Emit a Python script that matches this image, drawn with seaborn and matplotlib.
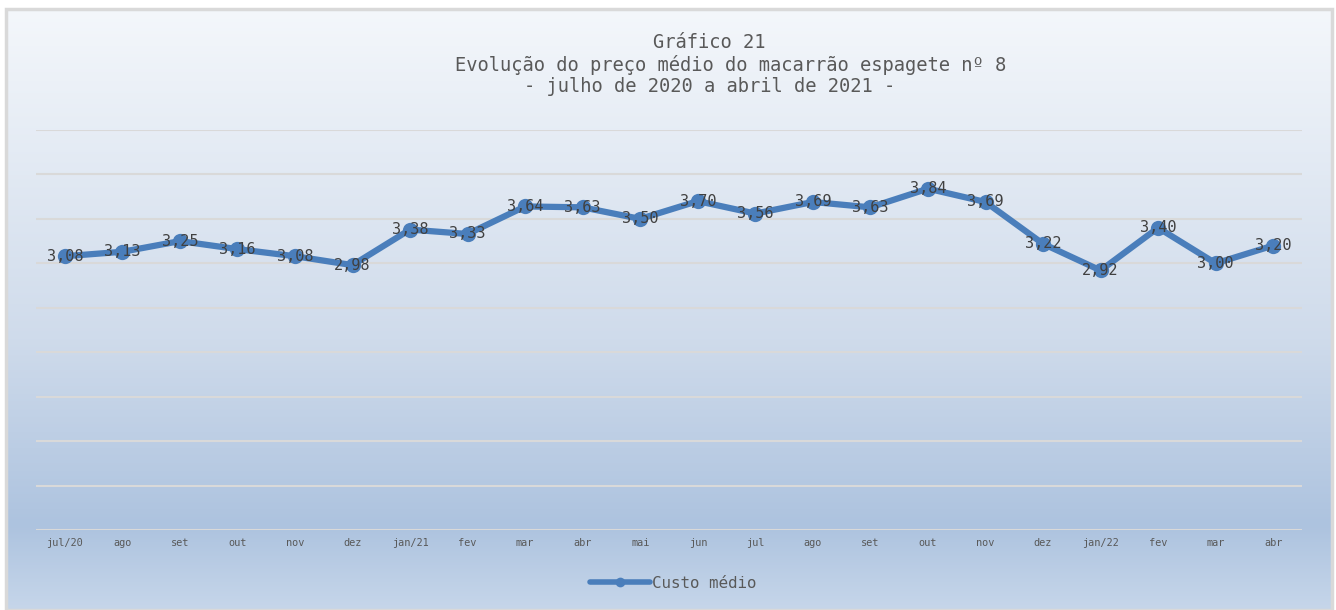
import numpy as np
import pandas as pd
import matplotlib
matplotlib.use("Agg")
import matplotlib.pyplot as plt
from matplotlib.colors import LinearSegmentedColormap
from matplotlib.patches import Rectangle
import seaborn as sns

months = ["jul/20", "ago", "set", "out", "nov", "dez", "jan/21", "fev", "mar", "abr", "mai",
          "jun", "jul", "ago", "set", "out", "nov", "dez", "jan/22", "fev", "mar", "abr"]
custo_medio = [3.08, 3.13, 3.25, 3.16, 3.08, 2.98, 3.38, 3.33, 3.64, 3.63, 3.50,
               3.70, 3.56, 3.69, 3.63, 3.84, 3.69, 3.22, 2.92, 3.40, 3.00, 3.20]
title_lines = ["Gráfico 21",
               "Evolução do preço médio do macarrão espagete nº 8",
               "- julho de 2020 a abril de 2021 -"]

sns.set_theme(style="white")
plt.rcParams["font.family"] = ["DejaVu Sans Mono", "DejaVu Sans"]

W, H = 1336, 610
fig = plt.figure(figsize=(W / 100, H / 100), dpi=100)
fig.patch.set_facecolor("white")

# gradient background box
bg = fig.add_axes([6 / W, 0, (1332 - 6) / W, (H - 9) / H], zorder=0)
cmap = LinearSegmentedColormap.from_list(
    "bg", [(0, "#f4f7fb"), (0.55, "#cfdbeb"), (0.86, "#adc3df"), (1.0, "#c6d6ea")])
bg.imshow(np.linspace(0, 1, 256).reshape(-1, 1), aspect="auto", cmap=cmap,
          extent=[0, 1, 0, 1], origin="upper")
bg.set_xlim(0, 1)
bg.set_ylim(0, 1)
bg.axis("off")
bg.add_patch(Rectangle((0, 0), 1, 1, transform=bg.transAxes, fill=False,
                       edgecolor="#d9d9d9", linewidth=2.5, clip_on=False))

ax = fig.add_axes([36 / W, 1 - 530 / H, (1302 - 36) / W, 400 / H], zorder=1)
ax.set_facecolor("none")

df = pd.DataFrame({"x": np.arange(len(months)), "y": custo_medio})
sns.lineplot(data=df, x="x", y="y", ax=ax, color="#4a7ebb", linewidth=4.5,
             marker="o", markersize=11, markeredgewidth=0, sort=False,
             label="Custo médio")

for xi, yi in zip(df["x"], df["y"]):
    ax.text(xi, yi, f"{yi:.2f}".replace(".", ","), ha="center", va="center",
            fontsize=11, color="#404040", zorder=5)

ax.set_xlim(-0.5, len(months) - 0.5)
ax.set_ylim(0, 4.5)
ax.set_yticks(np.arange(0, 4.51, 0.5))
ax.set_yticklabels([])
ax.grid(axis="y", color="#d9d9d9", linewidth=1.5)
ax.set_xticks(df["x"])
ax.set_xticklabels(months, fontsize=7.4, color="#595959")
ax.tick_params(axis="x", length=0, pad=6)
ax.tick_params(axis="y", length=0)
ax.set_xlabel("")
ax.set_ylabel("")
for s in ax.spines.values():
    s.set_visible(False)

leg = ax.legend(loc="center", bbox_to_anchor=(673 / W, 1 - 583 / H),
                bbox_transform=fig.transFigure, frameon=False, fontsize=11.4,
                handlelength=3.8, handletextpad=0.1)
for t in leg.get_texts():
    t.set_color("#595959")
for h in leg.legend_handles:
    h.set_markersize(7)
    h.set_linewidth(4)

title_pos = [(709, 42), (731, 65), (710, 87)]
for txt, (px, py) in zip(title_lines, title_pos):
    fig.text(px / W, 1 - py / H, txt, ha="center", va="center",
             fontsize=13.5, color="#595959")

fig.savefig("out.png", dpi=100)
